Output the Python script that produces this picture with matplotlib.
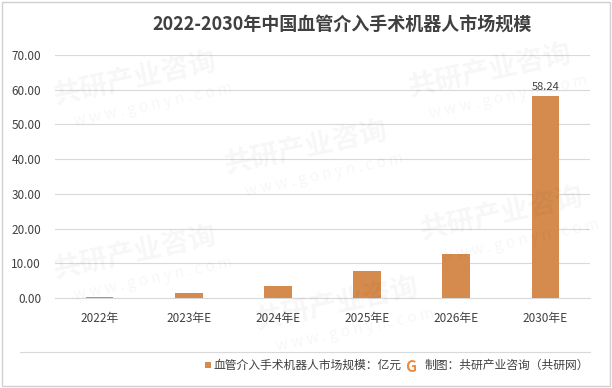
import matplotlib
matplotlib.use("Agg")
import matplotlib.pyplot as plt
from matplotlib.patches import Rectangle

plt.rcParams['font.family'] = ['Noto Sans CJK SC', 'DejaVu Sans']

categories = ["2022年", "2023年E", "2024年E", "2025年E", "2026年E", "2030年E"]
values = [0.3, 1.4, 3.5, 7.8, 12.7, 58.24]
yticks = [0, 10, 20, 30, 40, 50, 60, 70]
title = "2022-2030年中国血管介入手术机器人市场规模"
legend_label = "血管介入手术机器人市场规模：亿元"
source = "制图：共研产业咨询（共研网）"

bar_color = "#D58B4E"

fig = plt.figure(figsize=(6.12, 3.88), dpi=100)
ax = fig.add_axes([55 / 612, 1 - 298 / 388, 535 / 612, 243 / 388])

# faint watermarks in the background
for (wx, wy) in [(0.22, 0.80), (0.50, 0.62), (0.80, 0.82), (0.22, 0.35), (0.55, 0.22), (0.82, 0.45)]:
    fig.text(wx, wy, "共研产业咨询", fontsize=20, fontweight="bold", color="#000000",
             alpha=0.035, rotation=12, ha="center", va="center")
    fig.text(wx + 0.03, wy - 0.07, "w w w . g o n y n . c o m", fontsize=11, color="#000000",
             alpha=0.035, rotation=12, ha="center", va="center")

x = range(len(categories))
ax.bar(x, values, width=0.31, color=bar_color, zorder=3)
ax.text(5, values[5] + 1.2, f"{values[5]:.2f}", ha="center", va="bottom", fontsize=8, color="#404040")

ax.set_xlim(-0.5, len(categories) - 0.5)
ax.set_ylim(0, 70)
ax.set_yticks(yticks)
ax.set_yticklabels([f"{v:.2f}" for v in yticks])
ax.set_xticks(list(x))
ax.set_xticklabels(categories)
ax.tick_params(axis="both", length=0, labelsize=8.5, colors="#404040")
ax.tick_params(axis="x", pad=10)
ax.tick_params(axis="y", pad=10)
ax.grid(axis="y", color="#D9D9D9", linewidth=0.8, zorder=0)
for s in ["top", "right", "left"]:
    ax.spines[s].set_visible(False)
ax.spines["bottom"].set_color("#D9D9D9")
ax.set_facecolor("none")

fig.text(342 / 612, 1 - 25 / 388, title, ha="center", va="center", fontsize=13,
         fontweight="bold", color="#404040")

# frame and separator line
fig.add_artist(Rectangle((0.003, 0.004), 0.994, 0.992, transform=fig.transFigure,
                         fill=False, edgecolor="#D0D0D0", linewidth=1))
fig.add_artist(plt.Line2D([20 / 612, 590 / 612], [1 - 352 / 388] * 2, transform=fig.transFigure,
                          color="#D9D9D9", linewidth=0.8))

# legend and source
fig.add_artist(Rectangle((205 / 612, 1 - 368 / 388), 6 / 612, 6 / 388, transform=fig.transFigure,
                         facecolor=bar_color, edgecolor="none"))
fig.text(214 / 612, 1 - 365 / 388, legend_label, ha="left", va="center", fontsize=8.5, color="#404040")
fig.text(411 / 612, 1 - 367 / 388, "G", ha="center", va="center", fontsize=11,
         fontweight="bold", color="#F08A3C")
fig.text(425 / 612, 1 - 365 / 388, source, ha="left", va="center", fontsize=8.5, color="#404040")

fig.savefig("out.png", dpi=100)
